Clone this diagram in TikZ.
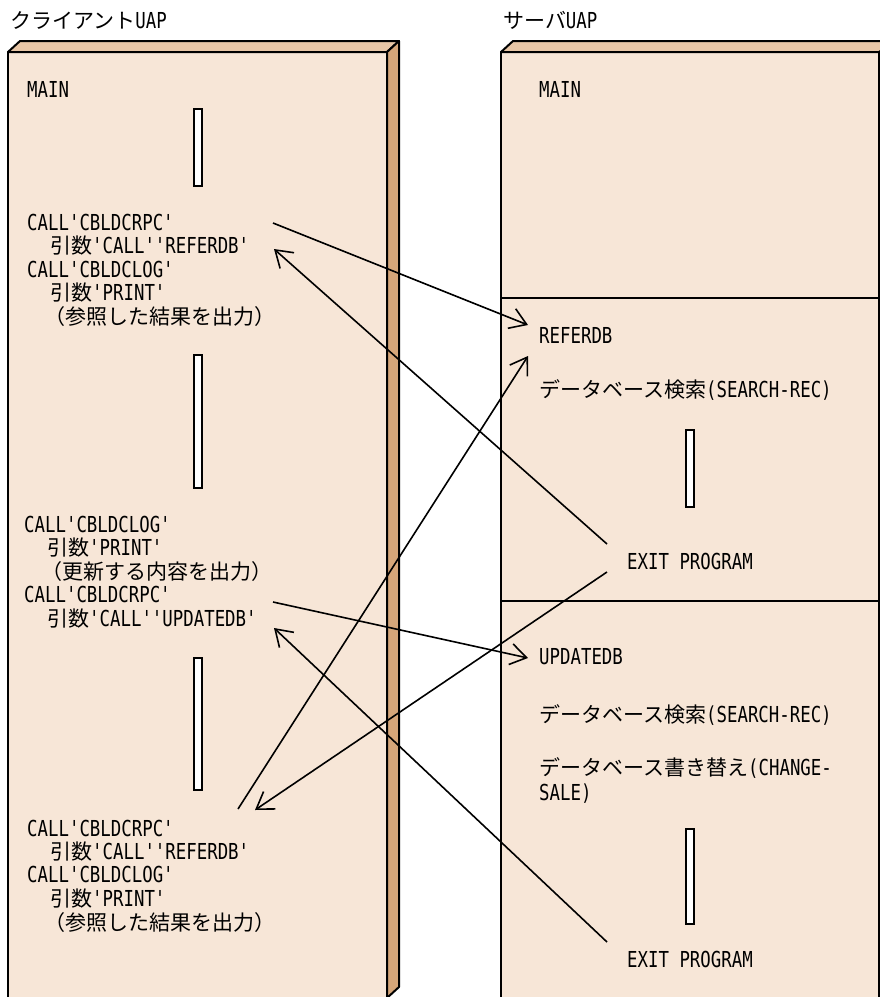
\documentclass[tikz,border=0pt]{standalone}
\usepackage{fontspec}
\newfontfamily\jp{Noto Sans CJK JP}
\newfontfamily\lat{DejaVu Sans Mono}[FakeStretch=0.79]
\usetikzlibrary{arrows.meta}
\newcommand\ml[1]{{\fontsize{22}{25}\lat #1}}
\definecolor{facecol}{HTML}{F7E6D7}
\definecolor{topcol}{HTML}{E8C6A6}
\definecolor{sidecol}{HTML}{D6A679}

\begin{document}
\begin{tikzpicture}[x=1pt,y=-1pt,
  txt/.style={anchor=base west, inner sep=0pt, font=\fontsize{21}{25}\jp},
  panel/.style={draw=black, line width=2pt, line join=round},
  bar/.style={draw=black, fill=white, line width=1.6pt},
  call/.style={line width=1.6pt, -{Straight Barb[length=16pt,width=21pt,line width=1.6pt]}}]

\useasboundingbox (0,0) rectangle (880,997);
\clip (0,0) rectangle (880,997);

% titles
\node[txt] (tcl) at (10,28) {クライアント\ml{UAP}};
\node[txt] (tsv) at (503,28) {サーバ\ml{UAP}};

% client program block
\fill[facecol] (8,52) rectangle (387,1005);
\draw[panel, fill=topcol] (8,52) -- (20,41) -- (399,41) -- (387,52) -- cycle;
\draw[panel, fill=sidecol] (387,52) -- (399,41) -- (399,987) -- (387,998) -- cycle;
\draw[panel] (387,1005) -- (387,52) -- (8,52) -- (8,1005);

% server program block
\fill[facecol] (501,52) rectangle (879,1005);
\draw[panel, fill=topcol] (501,52) -- (513,41) -- (895,41) -- (879,52) -- cycle;
\draw[panel] (879,1005) -- (879,52) -- (501,52) -- (501,1005);
\draw[panel] (501,298) -- (879,298);
\draw[panel] (501,601) -- (879,601);

% elision bars
\draw[bar] (194,109) rectangle (202,186);
\draw[bar] (194,355) rectangle (202,488);
\draw[bar] (194,658) rectangle (202,790);
\draw[bar] (686,430) rectangle (694,507);
\draw[bar] (686,829) rectangle (694,924);

% client statements
\node[txt] (cmain) at (27,97) {\ml{MAIN}};

\node[txt] (c1a) at (27,230) {\ml{CALL'CBLDCRPC'}};
\node[txt] (c1b) at (50,253) {引数\ml{'CALL''REFERDB'}};
\node[txt] (c1c) at (27,277) {\ml{CALL'CBLDCLOG'}};
\node[txt] (c1d) at (50,300) {引数\ml{'PRINT'}};
\node[txt] (c1e) at (44,324) {（参照した結果を出力）};

\node[txt] (c2a) at (24,532) {\ml{CALL'CBLDCLOG'}};
\node[txt] (c2b) at (47,555) {引数\ml{'PRINT'}};
\node[txt] (c2c) at (41,579) {（更新する内容を出力）};
\node[txt] (c2d) at (24,602) {\ml{CALL'CBLDCRPC'}};
\node[txt] (c2e) at (47,626) {引数\ml{'CALL''UPDATEDB'}};

\node[txt] (c3a) at (27,836) {\ml{CALL'CBLDCRPC'}};
\node[txt] (c3b) at (50,859) {引数\ml{'CALL''REFERDB'}};
\node[txt] (c3c) at (27,882) {\ml{CALL'CBLDCLOG'}};
\node[txt] (c3d) at (50,906) {引数\ml{'PRINT'}};
\node[txt] (c3e) at (44,930) {（参照した結果を出力）};

% server statements
\node[txt] (smain) at (539,97) {\ml{MAIN}};
\node[txt] (sref) at (539,343) {\ml{REFERDB}};
\node[txt] (sref1) at (539,397) {データベース検索\ml{(SEARCH-REC)}};
\node[txt] (sexit1) at (627,569) {\ml{EXIT PROGRAM}};
\node[txt] (supd) at (539,664) {\ml{UPDATEDB}};
\node[txt] (supd1) at (539,722) {データベース検索\ml{(SEARCH-REC)}};
\node[txt] (supd2) at (539,775) {データベース書き替え\ml{(CHANGE-}};
\node[txt] (supd3) at (539,800) {\ml{SALE)}};
\node[txt] (sexit2) at (627,967) {\ml{EXIT PROGRAM}};

% connector end points
\coordinate (k1s) at (273,223);
\coordinate (k1e) at (528,325);
\coordinate (k2s) at (607,544);
\coordinate (k2e) at (274,249);
\coordinate (k3s) at (273,602);
\coordinate (k3e) at (528,658);
\coordinate (k4s) at (607,942);
\coordinate (k4e) at (274,628);
\coordinate (k5s) at (238,809);
\coordinate (k5e) at (528,356);
\coordinate (k6s) at (607,572);
\coordinate (k6e) at (255,810);

% calls and returns
\draw[call] (k1s) -- (k1e);
\draw[call] (k2s) -- (k2e);
\draw[call] (k3s) -- (k3e);
\draw[call] (k4s) -- (k4e);
\draw[call] (k5s) -- (k5e);
\draw[call] (k6s) -- (k6e);
\end{tikzpicture}
\end{document}
